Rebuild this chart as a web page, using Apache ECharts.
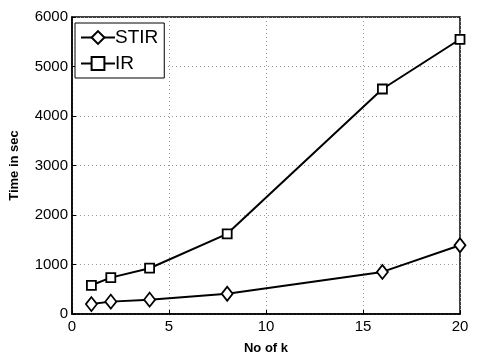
<!DOCTYPE html>
<html><head><meta charset="utf-8">
<script src="https://cdn.jsdelivr.net/npm/echarts@6/dist/echarts.min.js"></script>
<style>html,body{margin:0;padding:0;background:#fff}#c{width:478px;height:360px}</style>
</head><body><div id="c"></div>
<script>
const kValues = [1, 2, 4, 8, 16, 20];
const stirTimes = [200, 250, 290, 410, 850, 1390];
const irTimes = [580, 735, 925, 1620, 4545, 5550];
const seriesNames = ['STIR', 'IR'];

const chart = echarts.init(document.getElementById('c'), null, {renderer: 'canvas'});
const font = '"Liberation Sans", Arial, Helvetica, sans-serif';
const pair = (xs, ys) => xs.map((x, i) => [x, ys[i]]);
const mk = {color: '#fff', borderColor: '#000', borderWidth: 1.8};
chart.setOption({
  animation: false,
  backgroundColor: '#fff',
  textStyle: {fontFamily: font},
  grid: {left: 70, right: 18, top: 17, bottom: 46, show: true, borderColor: '#000', borderWidth: 1.5, backgroundColor: 'transparent'},
  legend: {
    left: 75, top: 23, orient: 'vertical',
    backgroundColor: '#fff', borderColor: '#000', borderWidth: 1,
    padding: [5, 6, 5, 5], itemGap: 7, itemWidth: 34, itemHeight: 16,
    textStyle: {fontSize: 19, color: '#000', fontFamily: font, padding: [0,0,0,-5]},
    data: seriesNames
  },
  xAxis: {
    type: 'value', min: 0, max: 20, interval: 5,
    name: 'No of k', nameLocation: 'middle', nameGap: 28,
    nameTextStyle: {fontWeight: 'bold', fontSize: 13, color: '#000', fontFamily: font},
    axisLine: {lineStyle: {color: '#000', width: 1.5}},
    axisTick: {inside: true, length: 4, lineStyle: {color: '#000'}},
    axisLabel: {fontSize: 15, color: '#000', margin: 5, fontFamily: font},
    splitLine: {show: true, lineStyle: {color: '#999', type: [1, 3], width: 1}}
  },
  yAxis: {
    type: 'value', min: 0, max: 6000, interval: 1000,
    name: 'Time in sec', nameLocation: 'middle', nameGap: 51,
    nameTextStyle: {fontWeight: 'bold', fontSize: 13, color: '#000', fontFamily: font},
    axisLine: {lineStyle: {color: '#000', width: 1.5}},
    axisTick: {inside: true, length: 4, lineStyle: {color: '#000'}},
    axisLabel: {fontSize: 15, color: '#000', margin: 4, fontFamily: font, formatter: v => String(v)},
    splitLine: {show: true, lineStyle: {color: '#999', type: [1, 3], width: 1}}
  },
  series: [
    {name: seriesNames[0], type: 'line', data: pair(kValues, stirTimes), symbol: 'diamond', symbolSize: [11, 14],
     lineStyle: {color: '#000', width: 2}, itemStyle: mk, color: '#000'},
    {name: seriesNames[1], type: 'line', data: pair(kValues, irTimes), symbol: 'rect', symbolSize: 9,
     lineStyle: {color: '#000', width: 2}, itemStyle: mk, color: '#000'}
  ]
});
</script></body></html>
